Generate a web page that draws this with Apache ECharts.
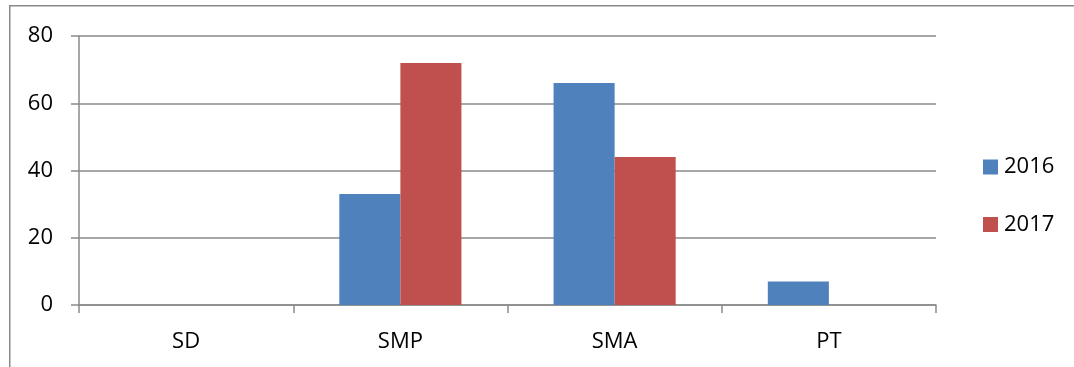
<!DOCTYPE html>
<html>
<head>
<meta charset="utf-8">
<script src="https://cdn.jsdelivr.net/npm/echarts@6/dist/echarts.min.js"></script>
<style>
html,body{margin:0;padding:0;background:#fff;}
#chart{width:1074px;height:367px;}
</style>
</head>
<body>
<div id="chart"></div>
<script>
const categories = ['SD', 'SMP', 'SMA', 'PT'];
const seriesNames = ['2016', '2017'];
const values2016 = [0, 33, 66, 7];
const values2017 = [0, 72, 44, 0];
const yTicks = [0, 20, 40, 60, 80];

const FONT = '"Open Sans", "Liberation Sans", sans-serif';
const GRID = '#8a8a8a';

const chart = echarts.init(document.getElementById('chart'), null, {renderer: 'canvas'});
chart.setOption({
  animation: false,
  backgroundColor: '#fff',
  graphic: [{
    type: 'rect',
    shape: {x: 9.75, y: 5.75, width: 1200, height: 500},
    style: {fill: 'none', stroke: '#8a8a8a', lineWidth: 1.5},
    silent: true
  }],
  grid: {left: 79, right: 138, top: 36, bottom: 62, containLabel: false},
  legend: {
    orient: 'vertical',
    left: 978,
    top: 151,
    itemWidth: 15,
    itemHeight: 15,
    itemGap: 35.5,
    icon: 'rect',
    textStyle: {fontFamily: FONT, fontSize: 22, color: '#000', padding: [0, 0, 0, 1]},
    data: seriesNames
  },
  xAxis: {
    type: 'category',
    data: categories,
    boundaryGap: true,
    axisLine: {show: true, lineStyle: {color: GRID, width: 1.5}},
    axisTick: {show: true, length: 8, alignWithLabel: false, lineStyle: {color: GRID, width: 1.5}},
    axisLabel: {fontFamily: FONT, fontSize: 22, color: '#000', margin: 26}
  },
  yAxis: {
    type: 'value',
    min: yTicks[0],
    max: yTicks[yTicks.length - 1],
    interval: yTicks[1] - yTicks[0],
    axisLine: {show: true, lineStyle: {color: GRID, width: 1.5}},
    axisTick: {show: true, length: 8, lineStyle: {color: GRID, width: 1.5}},
    splitLine: {show: true, lineStyle: {color: GRID, width: 1.5}},
    axisLabel: {fontFamily: FONT, fontSize: 22, color: '#000', margin: 26}
  },
  series: [
    {
      name: seriesNames[0], type: 'bar', data: values2016,
      barGap: '0%', barCategoryGap: '43%',
      itemStyle: {color: '#4F81BD'}
    },
    {
      name: seriesNames[1], type: 'bar', data: values2017,
      barGap: '0%', barCategoryGap: '43%',
      itemStyle: {color: '#C0504D'}
    }
  ]
});
</script>
</body>
</html>
